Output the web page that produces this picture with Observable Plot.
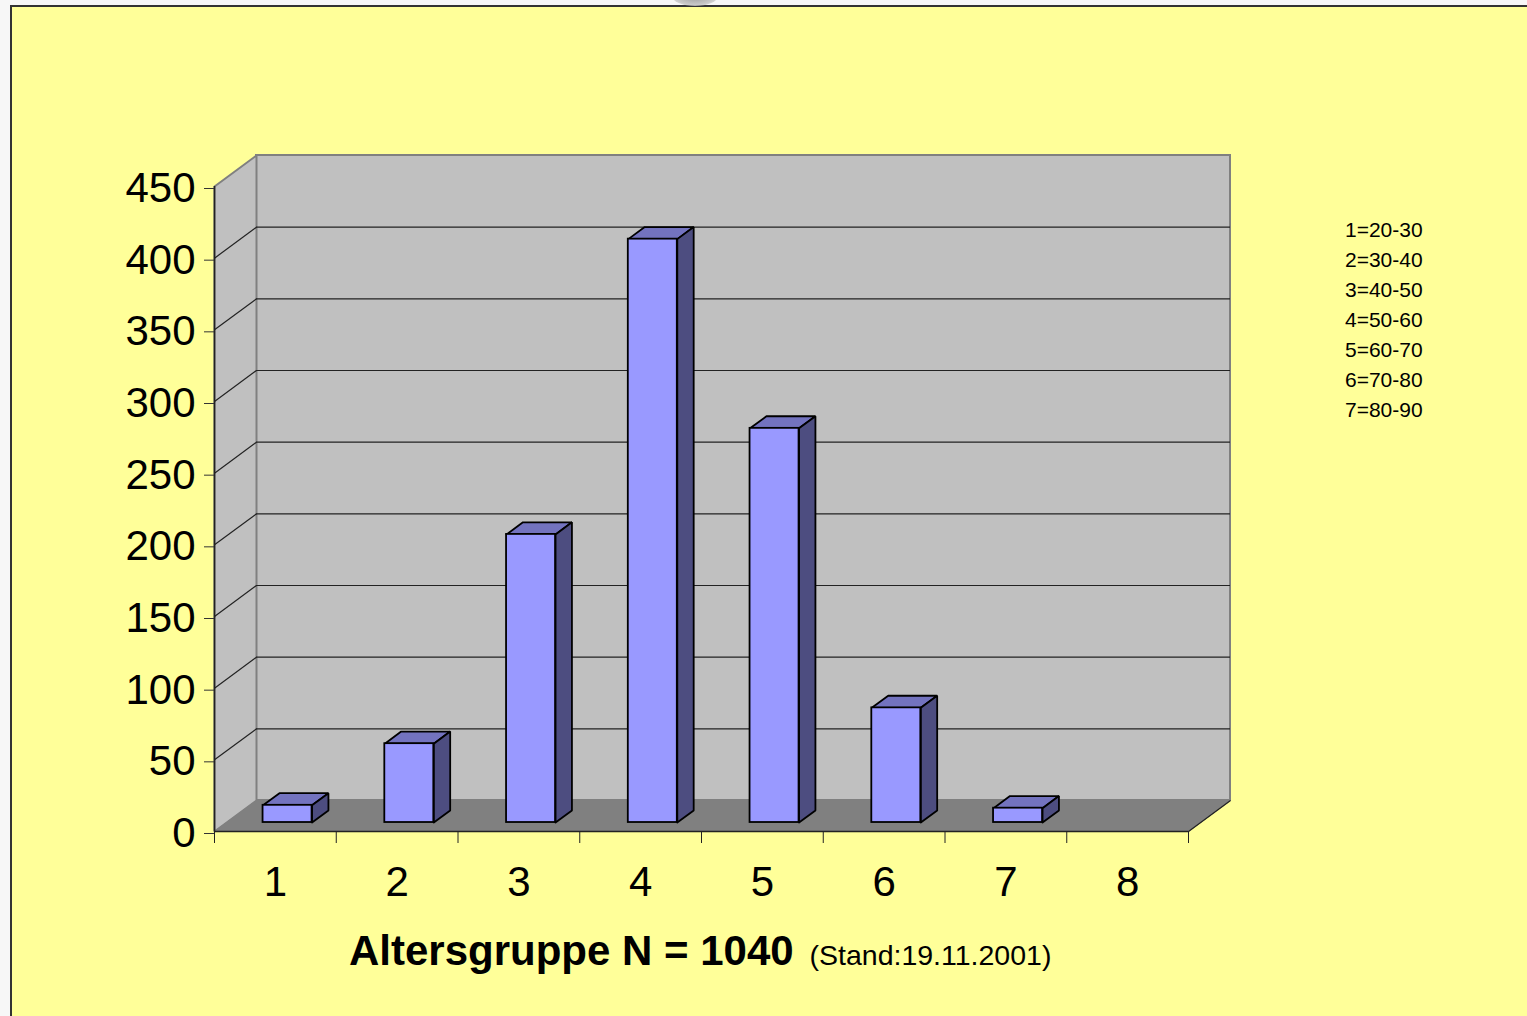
<!DOCTYPE html>
<html>
<head>
<meta charset="utf-8">
<script src="https://cdn.jsdelivr.net/npm/d3@7"></script>
<script src="https://cdn.jsdelivr.net/npm/@observablehq/plot@0.6"></script>
<style>
  html, body { margin: 0; padding: 0; width: 1527px; height: 1016px; overflow: hidden; background: #f7f7f7; }
  #panel { position: absolute; left: 10px; top: 5px; width: 1560px; height: 1060px; background: #FFFF99;
           border-left: 2px solid #333; border-top: 2px solid #333; }
  #blob { position: absolute; left: 672px; top: -14px; width: 46px; height: 20px; border-radius: 50%;
          background: radial-gradient(ellipse at center, #9a9a9a 0%, #c8c8c8 60%, rgba(240,240,240,0) 100%); }
  #chart { position: absolute; left: 0; top: 0; }
  #title { position: absolute; left: 349px; top: 930px; font-family: "Liberation Sans", Arial, sans-serif; white-space: pre; line-height: 42px; color: #000; }
  #title .main { font-weight: bold; font-size: 42px; }
  #title .sub { font-size: 28.5px; }
  #legend { position: absolute; left: 1345px; top: 215px; font-family: "Liberation Sans", Arial, sans-serif; font-size: 21px; line-height: 30px; color: #000; }
</style>
</head>
<body>
<div id="panel"></div>
<div id="blob"></div>
<div id="chart"></div>
<div id="title"><span class="main">Altersgruppe N = 1040</span><span class="sub">  (Stand:19.11.2001)</span></div>
<div id="legend"></div>
<script>
// ---- data ----
const categories = [1, 2, 3, 4, 5, 6, 7, 8];
const counts = [12, 55, 201, 407, 275, 80, 10, 0];
const yTicks = [0, 50, 100, 150, 200, 250, 300, 350, 400, 450];
const legendLabels = ["1=20-30", "2=30-40", "3=40-50", "4=50-60", "5=60-70", "6=70-80", "7=80-90"];

// ---- layout ----
const W = 1527, H = 1016;
const mL = 214, mR = 339, mT = 186, mB = 185;
const xDom = [0.5, 8.5], yDom = [0, 450];
const pxPerX = (W - mL - mR) / (xDom[1] - xDom[0]);
const pxPerY = (H - mT - mB) / (yDom[1] - yDom[0]);
// 3D depth of the box (pixels) converted to data units
const DX = 42 / pxPerX, DY = 31 / pxPerY;
const d0 = 0.29, d1 = 0.68;          // bar depth span (fraction of box depth)
const halfW = 24.5 / pxPerX;         // half bar width in x units

const P = (x, y, d) => ({x: x + d * DX, y: y + d * DY});

const bars = categories.map((c, i) => ({c, v: counts[i]})).filter(b => b.v > 0);
const fronts = bars.map(b => {
  const cx = b.c + d0 * DX;
  return {x1: cx - halfW, x2: cx + halfW, y1: d0 * DY, y2: b.v + d0 * DY};
});
const dd = d1 - d0;
function poly(id, pts) { return pts.concat([pts[0]]).map(p => ({...p, id})); }
const tops = bars.flatMap((b, i) => {
  const f = fronts[i];
  return poly(i, [{x: f.x1, y: f.y2}, {x: f.x2, y: f.y2}, {x: f.x2 + dd * DX, y: f.y2 + dd * DY}, {x: f.x1 + dd * DX, y: f.y2 + dd * DY}]);
});
const sides = bars.flatMap((b, i) => {
  const f = fronts[i];
  return poly(i, [{x: f.x2, y: f.y1}, {x: f.x2, y: f.y2}, {x: f.x2 + dd * DX, y: f.y2 + dd * DY}, {x: f.x2 + dd * DX, y: f.y1 + dd * DY}]);
});

const leftWall = poly("lw", [P(xDom[0], 0, 0), P(xDom[0], 450, 0), P(xDom[0], 450, 1), P(xDom[0], 0, 1)]);
const floor = poly("fl", [P(xDom[0], 0, 0), P(xDom[1], 0, 0), P(xDom[1], 0, 1), P(xDom[0], 0, 1)]);
const gridVals = yTicks.filter(t => t > 0 && t < 450);
const boundaries = d3.range(0.5, 9, 1);

const chart = Plot.plot({
  width: W, height: H,
  marginLeft: mL, marginRight: mR, marginTop: mT, marginBottom: mB,
  x: {domain: xDom},
  y: {domain: yDom},
  style: {background: "transparent", fontFamily: "'Liberation Sans', Arial, sans-serif", color: "#000", overflow: "visible"},
  marks: [
    // back wall
    Plot.rect([0], {x1: xDom[0] + DX, x2: xDom[1] + DX, y1: DY, y2: 450 + DY, fill: "#C0C0C0", stroke: "#808080", strokeWidth: 2}),
    // left wall
    Plot.line(leftWall, {x: "x", y: "y", z: "id", fill: "#C0C0C0", stroke: "#808080", strokeWidth: 2, strokeLinejoin: "miter"}),
    // grid lines on back wall and left wall
    Plot.ruleY(gridVals, {y: d => d + DY, x1: xDom[0] + DX, x2: xDom[1] + DX, stroke: "#222", strokeWidth: 1.2}),
    Plot.link(gridVals, {x1: xDom[0], y1: d => d, x2: xDom[0] + DX, y2: d => d + DY, stroke: "#222", strokeWidth: 1.2}),
    // floor
    Plot.line(floor, {x: "x", y: "y", z: "id", fill: "#808080", stroke: "#808080", strokeWidth: 1, strokeLinejoin: "miter"}),
    Plot.ruleY([0], {x1: xDom[0], x2: xDom[1], stroke: "#222", strokeWidth: 1.6}),
    Plot.link([0], {x1: xDom[1], y1: 0, x2: xDom[1] + DX, y2: DY, stroke: "#222", strokeWidth: 1.2}),
    // bars
    Plot.line(tops, {x: "x", y: "y", z: "id", fill: "#7373BF", stroke: "#000", strokeWidth: 1.8, strokeLinejoin: "miter"}),
    Plot.line(sides, {x: "x", y: "y", z: "id", fill: "#4D4D80", stroke: "#000", strokeWidth: 1.8, strokeLinejoin: "miter"}),
    Plot.rect(fronts, {x1: "x1", x2: "x2", y1: "y1", y2: "y2", fill: "#9999FF", stroke: "#000", strokeWidth: 1.8}),
    // front y axis line
    Plot.ruleX([xDom[0]], {y1: 0, y2: 450, stroke: "#222", strokeWidth: 1.6}),
    // axes
    Plot.axisY({ticks: yTicks, tickSize: 10, tickPadding: 9, fontSize: 42, stroke: "#333", label: null, dy: 2}),
    Plot.axisX({ticks: boundaries, tickSize: 12, tickFormat: () => "", stroke: "#222", label: null}),
    Plot.axisX({ticks: categories, tickSize: 0, tickPadding: 35, fontSize: 42, label: null, tickFormat: d => String(d)})
  ]
});
document.getElementById("chart").appendChild(chart);

const lg = document.getElementById("legend");
legendLabels.forEach(t => { const d = document.createElement("div"); d.textContent = t; lg.appendChild(d); });
</script>
</body>
</html>
